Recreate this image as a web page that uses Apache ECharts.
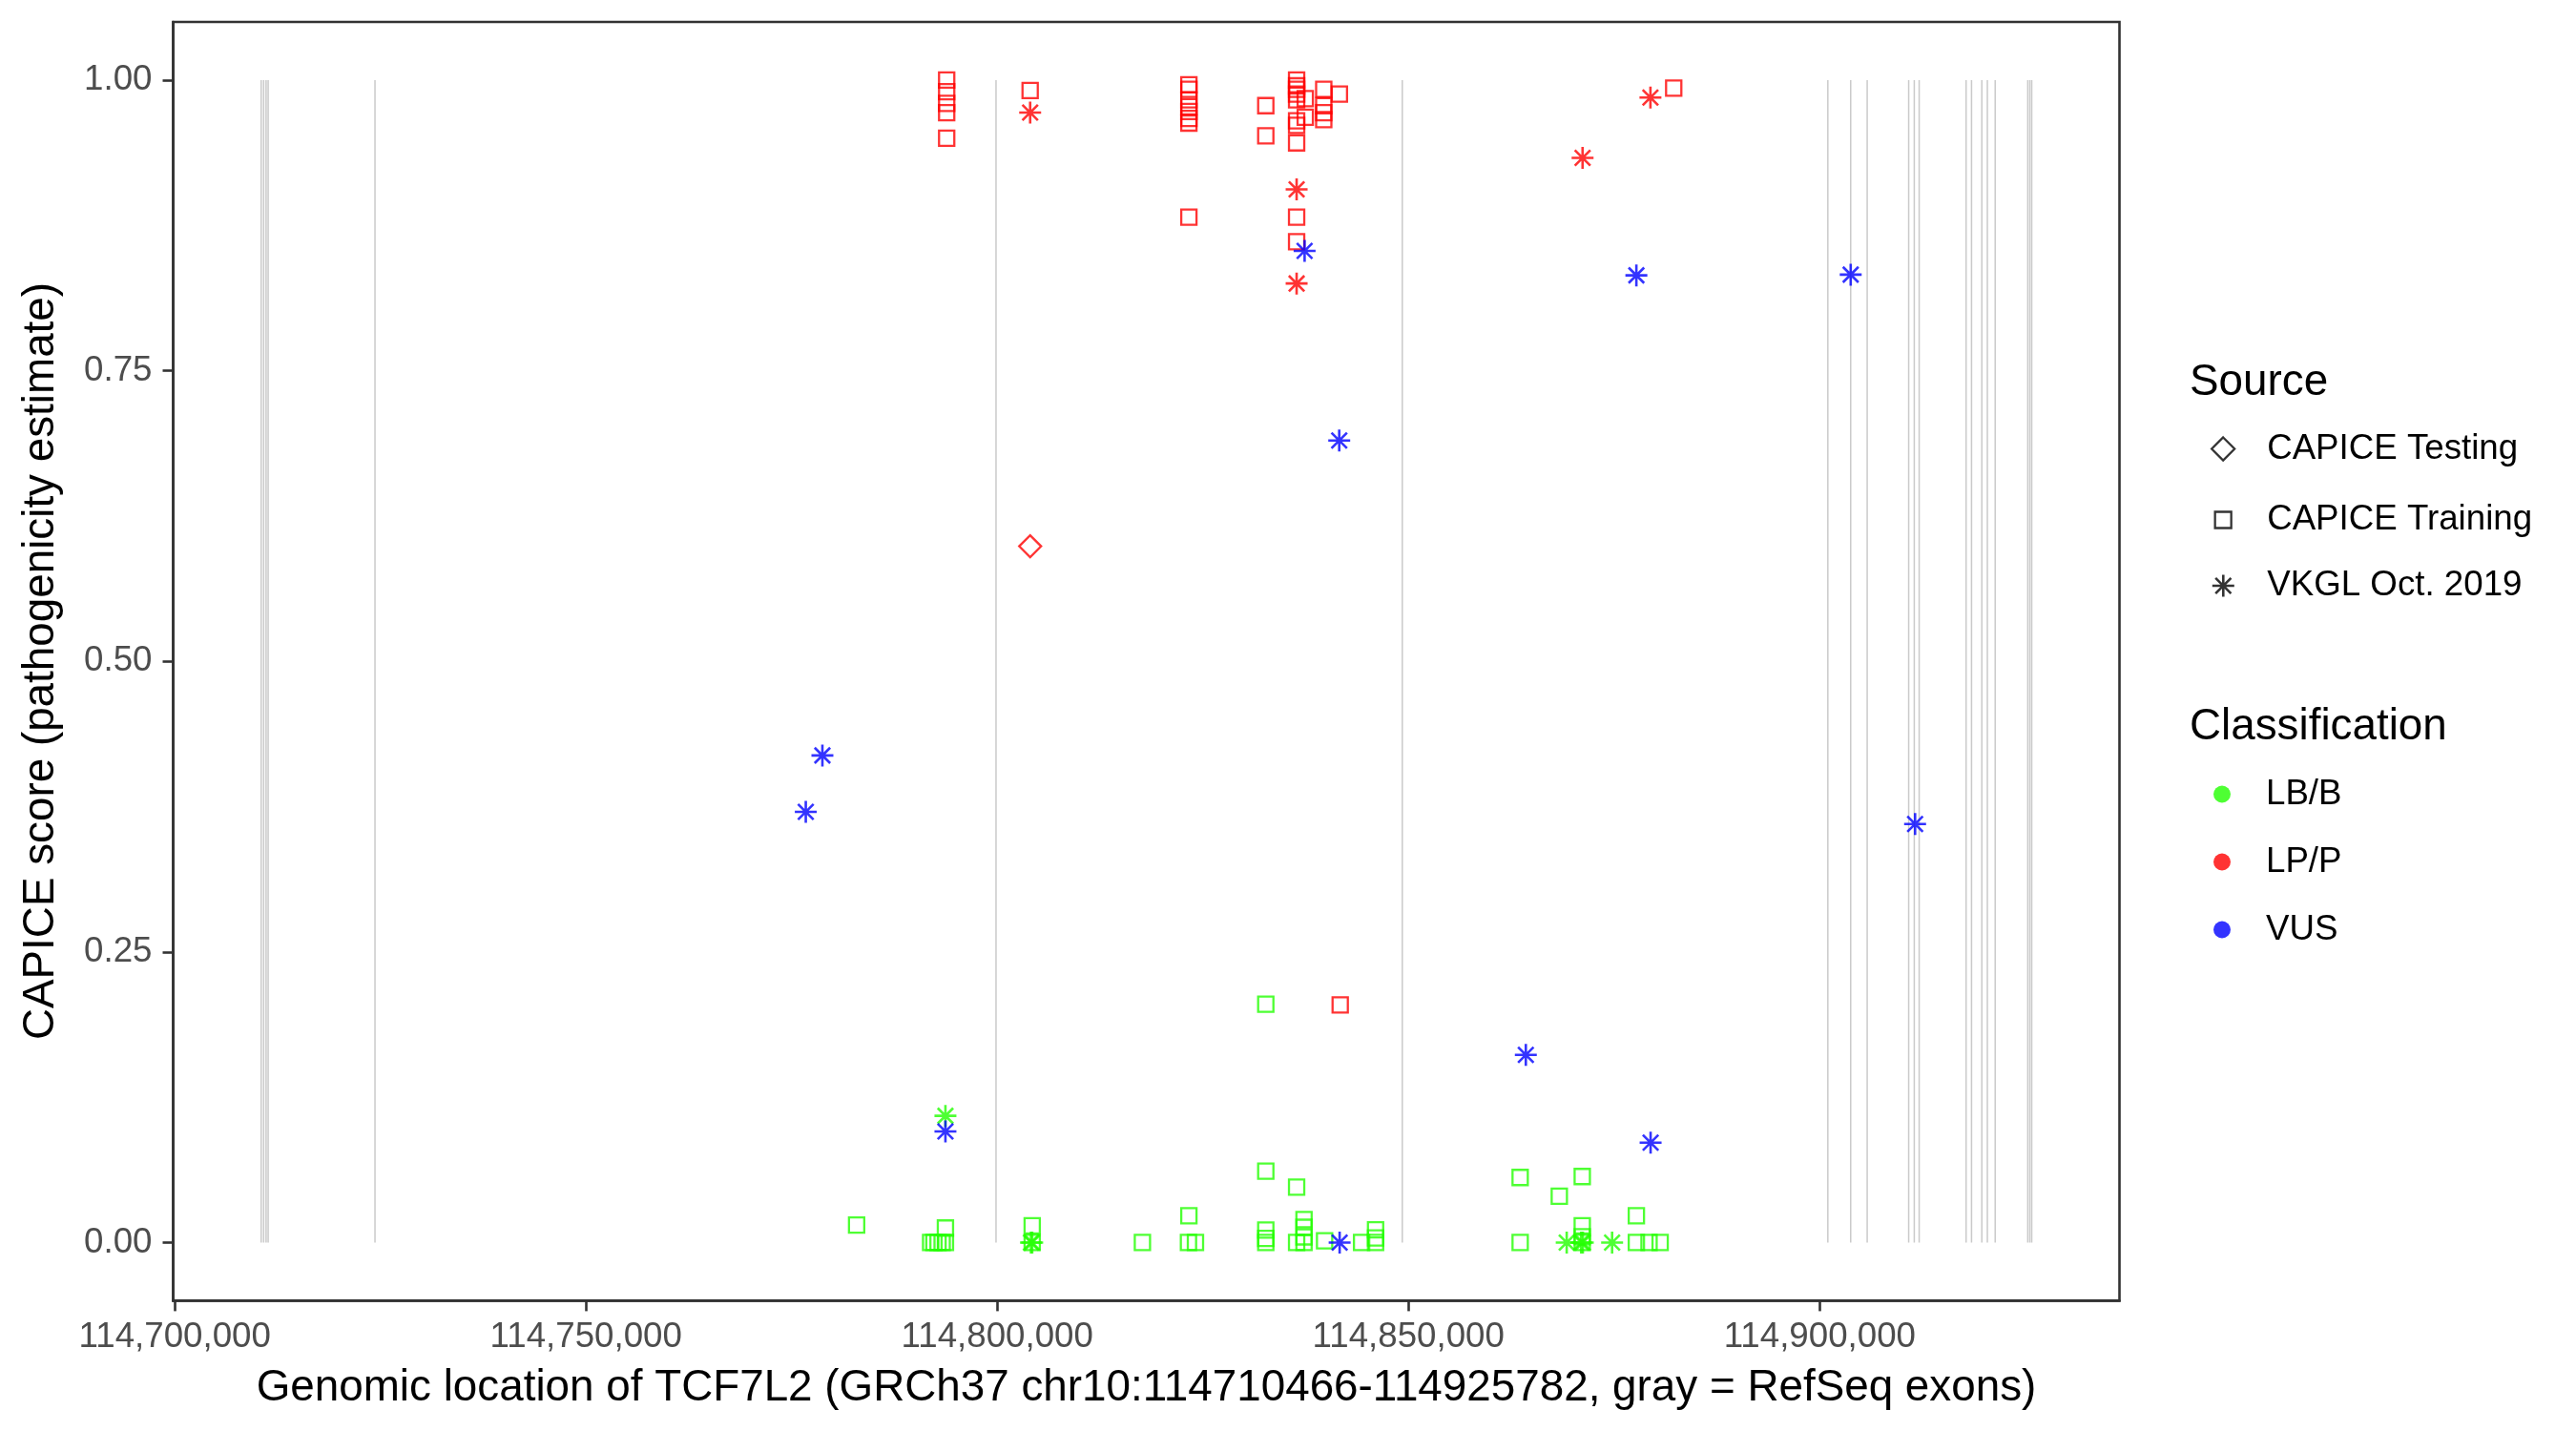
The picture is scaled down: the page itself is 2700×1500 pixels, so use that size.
<!DOCTYPE html>
<html>
<head>
<meta charset="utf-8">
<script src="https://cdn.jsdelivr.net/npm/echarts@6/dist/echarts.min.js"></script>
<style>
html,body{margin:0;padding:0;background:#fff;}
#chart{width:2700px;height:1500px;}
</style>
</head>
<body>
<div id="chart"></div>
<script>
// ---------- data ----------
const xTicks = [114700000, 114750000, 114800000, 114850000, 114900000];
const yTicks = [0, 0.25, 0.5, 0.75, 1];

// RefSeq exon positions (gray vertical lines)
const exons = [114710500, 114710800, 114711100, 114711350, 114724340, 114799850, 114849250,
  114900990, 114903770, 114905775, 114910820, 114911500, 114912095, 114917800, 114918460,
  114919713, 114920386, 114921337, 114925300, 114925550, 114925780];

// CAPICE Training
const trainingLP = [
  [114793850,1.0],[114793850,0.99],[114793850,0.98],[114793850,0.972],[114793850,0.95],
  [114804000,0.991],
  [114823300,0.996],[114823300,0.992],[114823300,0.983],[114823300,0.977],[114823300,0.973],[114823300,0.967],[114823300,0.963],[114823300,0.882],
  [114832650,0.978],[114832650,0.952],
  [114836400,1.0],[114836400,0.995],[114836400,0.992],[114836400,0.988],[114836400,0.983],[114836400,0.965],[114836400,0.961],[114836400,0.946],[114836400,0.882],[114836400,0.861],
  [114837450,0.984],[114837450,0.968],
  [114839700,0.992],[114839700,0.978],[114839700,0.972],[114839700,0.966],
  [114841600,0.988],
  [114841700,0.2045],
  [114882250,0.993]
];
const trainingLB = [
  [114782900,0.015],
  [114791900,0],[114792300,0],[114792800,0],[114793300,0],[114793700,0],
  [114793700,0.0125],
  [114804250,0.0144],[114804250,0],
  [114817650,0],
  [114823300,0.023],[114823250,0],[114824100,0],
  [114832650,0.205],[114832650,0.0614],[114832650,0.0108],[114832650,0.0036],[114832650,0],
  [114836400,0.0477],[114836400,0],
  [114837300,0.0198],[114837300,0.0131],[114837300,0.0049],[114837300,0],
  [114839800,0.0015],
  [114844300,0],
  [114846000,0.011],[114846000,0.004],[114846000,0],
  [114863580,0.056],[114863580,0],
  [114868340,0.0398],
  [114871130,0.0568],[114871130,0.0145],[114871130,0.005],[114871130,0],
  [114877710,0.023],[114877710,0],
  [114879250,0],[114880600,0]
];
// VKGL Oct. 2019
const vkglLP = [[114804000,0.972],[114836400,0.906],[114836400,0.825],[114871170,0.933],[114879420,0.985]];
const vkglLB = [[114793700,0.109],[114804250,0],[114804100,0],[114869240,0],[114871000,0],[114871200,0],[114874760,0]];
const vkglVUS = [[114776720,0.3705],[114778740,0.419],[114793700,0.0956],[114837370,0.853],[114841580,0.69],
  [114841630,0],[114864270,0.1615],[114877710,0.832],[114879440,0.086],[114903770,0.8326],[114911600,0.36]];
// CAPICE Testing
const testingLP = [[114804000,0.599]];

const sourceNames = ['CAPICE Testing', 'CAPICE Training', 'VKGL Oct. 2019'];
const classNames = ['LB/B', 'LP/P', 'VUS'];

// ---------- styles ----------
const GREEN = '#22FF00', RED = '#FF0000', BLUE = '#0000FF';
const classColors = [GREEN, RED, BLUE];
const FONT = 'Liberation Sans, Arial, Helvetica, sans-serif';
const ASTERISK = 'path://M10 0L10 20M0 10L20 10M2.93 2.93L17.07 17.07M2.93 17.07L17.07 2.93';
const CLEAR = 'rgba(0,0,0,0)';
const TICK_FS = 36.7, TITLE_FS = 45.8;

function squareSeries(name, data, color) {
  return { type:'scatter', name, data, symbol:'rect', symbolSize:16, z:3,
    itemStyle:{color:CLEAR, borderColor:color, borderWidth:2.3}, emphasis:{disabled:true}, silent:true };
}
function starSeries(name, data, color) {
  return { type:'scatter', name, data, symbol:ASTERISK, symbolSize:23, z:3,
    itemStyle:{color:CLEAR, borderColor:color, borderWidth:2.6}, emphasis:{disabled:true}, silent:true };
}
function diamondSeries(name, data, color) {
  return { type:'scatter', name, data, symbol:'diamond', symbolSize:23, z:3,
    itemStyle:{color:CLEAR, borderColor:color, borderWidth:2.3}, emphasis:{disabled:true}, silent:true };
}

const exonSeries = {
  type:'custom', name:'exons', silent:true, z:1,
  data: exons.map(x => [x, 0, 1]),
  encode:{x:0, y:[1,2]},
  renderItem(params, api) {
    const x = api.value(0);
    const p0 = api.coord([x, api.value(1)]);
    const p1 = api.coord([x, api.value(2)]);
    return {type:'line', shape:{x1:p0[0], y1:p0[1], x2:p1[0], y2:p1[1]},
      style:{stroke:'#CACACA', lineWidth:1.5}};
  }
};

// legend-only series
const sourceIcons = [
  {icon:'diamond', size:24, style:{color:CLEAR, borderColor:'#000', borderWidth:2.3}},
  {icon:'rect', size:17, style:{color:CLEAR, borderColor:'#000', borderWidth:2.3}},
  {icon:ASTERISK, size:23, style:{color:CLEAR, borderColor:'#000', borderWidth:2.6}}
];
const sourceCenters = [464, 535, 607];
const classCenters = [823, 894, 965];
const iconCenterX = 2329;
const textLeft = 2375;

const legends = [];
const legendSeries = [];
sourceNames.forEach((n, i) => {
  const s = sourceIcons[i];
  legendSeries.push({type:'scatter', name:n, data:[], symbol:s.icon, itemStyle:s.style});
  legends.push({
    data:[{name:n, icon:s.icon, itemStyle:s.style}],
    selectedMode:false, orient:'vertical', padding:0,
    left: iconCenterX - s.size/2, top: sourceCenters[i] - s.size/2,
    itemWidth:s.size, itemHeight:s.size,
    textStyle:{fontSize:TICK_FS, color:'#000', fontFamily:FONT, padding:[0,0,0, textLeft - (iconCenterX + s.size/2) - 5]}
  });
});
classNames.forEach((n, i) => {
  const st = {color:classColors[i], borderWidth:0};
  legendSeries.push({type:'scatter', name:n, data:[], symbol:'circle', itemStyle:st});
  legends.push({
    data:[{name:n, icon:'circle', itemStyle:st}],
    selectedMode:false, orient:'vertical', padding:0,
    left: iconCenterX - 9, top: classCenters[i] - 9,
    itemWidth:18, itemHeight:18,
    textStyle:{fontSize:TICK_FS, color:'#000', fontFamily:FONT, padding:[0,0,0, textLeft - (iconCenterX + 9) - 5]}
  });
});

const axisLineStyle = {show:true, onZero:false, lineStyle:{color:'#333333', width:2.6}};
const option = {
  animation:false,
  backgroundColor:'#fff',
  grid:{left:181.5, right:478.5, top:23, bottom:136.6, show:true, borderColor:'#333333', borderWidth:2.6, backgroundColor:'#fff', containLabel:false},
  legend: legends,
  xAxis:{
    type:'value', min:114699800, max:114936450, position:'bottom',
    axisLine:axisLineStyle, splitLine:{show:false},
    axisTick:{show:true, inside:false, length:11, lineStyle:{color:'#333333', width:2.6}, customValues:xTicks},
    axisLabel:{show:true, margin:20, fontSize:TICK_FS, color:'#4D4D4D', fontFamily:FONT, customValues:xTicks,
      formatter:v => Number(v).toLocaleString('en-US')}
  },
  yAxis:{
    type:'value', min:-0.05, max:1.05, position:'left',
    axisLine:axisLineStyle, splitLine:{show:false},
    axisTick:{show:true, inside:false, length:11, lineStyle:{color:'#333333', width:2.6}, customValues:yTicks},
    axisLabel:{show:true, margin:22, fontSize:TICK_FS, color:'#4D4D4D', fontFamily:FONT, customValues:yTicks,
      formatter:v => Number(v).toFixed(2)}
  },
  graphic:[
    {type:'text', x:1201.5, y:1455, silent:true,
      style:{text:'Genomic location of TCF7L2 (GRCh37 chr10:114710466-114925782, gray = RefSeq exons)',
        fontSize:TITLE_FS, fontFamily:FONT, fill:'#000', align:'center', verticalAlign:'middle'}},
    {type:'text', x:43, y:693, rotation:Math.PI/2, silent:true,
      style:{text:'CAPICE score (pathogenicity estimate)', fontSize:TITLE_FS, fontFamily:FONT, fill:'#000', align:'center', verticalAlign:'middle'}},
    {type:'text', x:2295, y:401, silent:true,
      style:{text:'Source', fontSize:TITLE_FS, fontFamily:FONT, fill:'#000', align:'left', verticalAlign:'middle'}},
    {type:'text', x:2295, y:762, silent:true,
      style:{text:'Classification', fontSize:TITLE_FS, fontFamily:FONT, fill:'#000', align:'left', verticalAlign:'middle'}}
  ],
  series:[
    exonSeries,
    squareSeries('trainLP', trainingLP, RED),
    squareSeries('trainLB', trainingLB, GREEN),
    starSeries('vkglLP', vkglLP, RED),
    starSeries('vkglLB', vkglLB, GREEN),
    starSeries('vkglVUS', vkglVUS, BLUE),
    diamondSeries('testLP', testingLP, RED)
  ].concat(legendSeries)
};

const chart = echarts.init(document.getElementById('chart'), null, {renderer:'canvas', width:2700, height:1500});
chart.setOption(option);
</script>
</body>
</html>
